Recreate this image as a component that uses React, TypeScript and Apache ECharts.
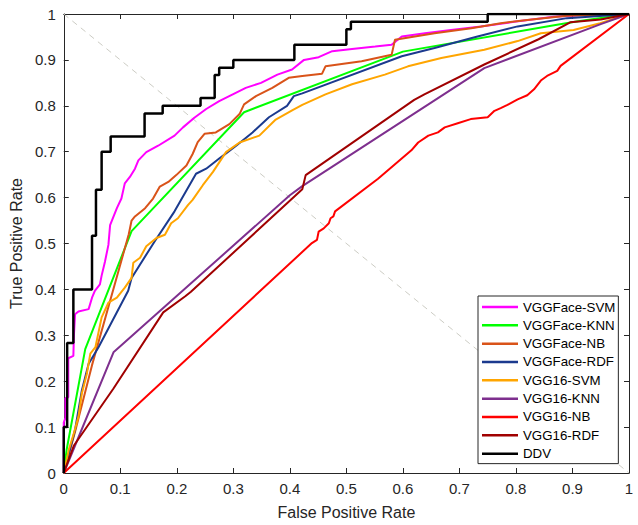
import React, { useEffect, useRef } from 'react';
import * as echarts from 'echarts';

const seriesNames = [
  'VGGFace-SVM',
  'VGGFace-KNN',
  'VGGFace-NB',
  'VGGFace-RDF',
  'VGG16-SVM',
  'VGG16-KNN',
  'VGG16-NB',
  'VGG16-RDF',
  'DDV',
];

const seriesColors = [
  '#FF00FF',
  '#00FF00',
  '#D95319',
  '#1B3A8E',
  '#FFA500',
  '#7E2F8E',
  '#FF0000',
  '#A00000',
  '#000000',
];

const vggfaceSvm = [
  [0, 0], [0, 0.11], [0.003, 0.12], [0.003, 0.163], [0.008, 0.165], [0.008, 0.25],
  [0.017, 0.255], [0.018, 0.3], [0.02, 0.346], [0.026, 0.352], [0.044, 0.357],
  [0.05, 0.382], [0.055, 0.397], [0.064, 0.411], [0.067, 0.43], [0.073, 0.461],
  [0.079, 0.497], [0.082, 0.54], [0.094, 0.577], [0.102, 0.598], [0.108, 0.631],
  [0.117, 0.645], [0.126, 0.663], [0.132, 0.681], [0.146, 0.699], [0.167, 0.713],
  [0.196, 0.735], [0.211, 0.753], [0.231, 0.774], [0.252, 0.793], [0.275, 0.81],
  [0.299, 0.825], [0.322, 0.839], [0.349, 0.85], [0.378, 0.868], [0.404, 0.879],
  [0.425, 0.9], [0.451, 0.906], [0.475, 0.919], [0.51, 0.924], [0.551, 0.929],
  [0.58, 0.933], [0.598, 0.951], [0.639, 0.958], [0.685, 0.965], [0.738, 0.973],
  [0.797, 0.983], [0.867, 0.994], [0.92, 0.998], [1, 1],
];

const vggfaceKnn = [
  [0, 0], [0.005, 0.05], [0.038, 0.27], [0.12, 0.527], [0.319, 0.786],
  [0.6, 0.918], [0.87, 0.976], [0.91, 0.984], [1, 1],
];

const vggfaceNb = [
  [0, 0], [0.02, 0.09], [0.05, 0.235], [0.09, 0.41], [0.115, 0.52], [0.12, 0.55],
  [0.126, 0.559], [0.144, 0.577], [0.158, 0.598], [0.17, 0.624], [0.185, 0.634],
  [0.199, 0.649], [0.217, 0.67], [0.228, 0.695], [0.237, 0.721], [0.249, 0.739],
  [0.269, 0.742], [0.293, 0.76], [0.311, 0.782], [0.319, 0.803], [0.34, 0.821],
  [0.369, 0.839], [0.398, 0.861], [0.422, 0.865], [0.457, 0.87], [0.463, 0.886],
  [0.527, 0.897], [0.58, 0.911], [0.586, 0.944], [0.656, 0.958], [0.721, 0.969],
  [0.773, 0.98], [0.82, 0.987], [0.89, 0.996], [1, 1],
];

const vggfaceRdf = [
  [0, 0], [0.02, 0.094], [0.032, 0.18], [0.044, 0.238], [0.0615, 0.274],
  [0.114, 0.397], [0.12, 0.425], [0.161, 0.505], [0.196, 0.57], [0.234, 0.652],
  [0.252, 0.663], [0.275, 0.685], [0.305, 0.713], [0.334, 0.742], [0.363, 0.775],
  [0.395, 0.8], [0.407, 0.821], [0.422, 0.827], [0.598, 0.908], [0.656, 0.926],
  [0.732, 0.951], [0.803, 0.973], [0.89, 0.991], [1, 1],
];

const vgg16Svm = [
  [0, 0], [0.009, 0.051], [0.018, 0.087], [0.026, 0.123], [0.032, 0.173],
  [0.041, 0.217], [0.047, 0.26], [0.056, 0.274], [0.067, 0.339], [0.079, 0.371],
  [0.094, 0.382], [0.108, 0.404], [0.12, 0.425], [0.123, 0.458], [0.135, 0.469],
  [0.146, 0.494], [0.164, 0.512], [0.179, 0.519], [0.19, 0.544], [0.202, 0.555],
  [0.22, 0.584], [0.228, 0.595], [0.246, 0.627], [0.264, 0.656], [0.287, 0.699],
  [0.311, 0.72], [0.346, 0.735], [0.375, 0.77], [0.404, 0.79], [0.422, 0.802],
  [0.463, 0.825], [0.51, 0.847], [0.568, 0.868], [0.609, 0.886], [0.668, 0.904],
  [0.744, 0.922], [0.803, 0.941], [0.844, 0.958], [0.902, 0.965], [0.949, 0.98],
  [1, 1],
];

const vgg16Knn = [
  [0, 0], [0.088, 0.263], [0.4, 0.605], [0.422, 0.625], [0.744, 0.882],
  [0.95, 0.978], [1, 1],
];

const vgg16Nb = [
  [0, 0], [0.439, 0.501], [0.448, 0.508], [0.451, 0.526], [0.46, 0.533],
  [0.469, 0.544], [0.472, 0.555], [0.477, 0.559], [0.48, 0.57], [0.556, 0.641],
  [0.615, 0.703], [0.627, 0.72], [0.645, 0.735], [0.662, 0.742], [0.674, 0.753],
  [0.697, 0.762], [0.72, 0.771], [0.75, 0.775], [0.762, 0.789], [0.773, 0.795],
  [0.785, 0.802], [0.803, 0.814], [0.82, 0.823], [0.832, 0.836], [0.844, 0.855],
  [0.855, 0.865], [0.873, 0.876], [0.879, 0.887], [1, 1],
];

const vgg16Rdf = [
  [0, 0], [0.018, 0.06], [0.088, 0.184], [0.176, 0.35], [0.215, 0.385],
  [0.225, 0.395], [0.422, 0.618], [0.428, 0.649], [0.62, 0.813], [0.638, 0.825],
  [0.744, 0.89], [0.84, 0.945], [0.896, 0.982], [0.95, 0.988], [1, 1],
];

const ddv = [
  [0, 0], [0, 0.1], [0.006, 0.1], [0.006, 0.283], [0.017, 0.283], [0.017, 0.4],
  [0.05, 0.4], [0.05, 0.517], [0.057, 0.517], [0.057, 0.617], [0.067, 0.617],
  [0.067, 0.7], [0.083, 0.7], [0.083, 0.733], [0.143, 0.733], [0.143, 0.783],
  [0.175, 0.783], [0.175, 0.8], [0.242, 0.8], [0.242, 0.817], [0.267, 0.817],
  [0.267, 0.867], [0.275, 0.867], [0.275, 0.883], [0.3, 0.883], [0.3, 0.9],
  [0.408, 0.9], [0.408, 0.933], [0.5, 0.933], [0.5, 0.967], [0.508, 0.967],
  [0.508, 0.983], [0.75, 0.983], [0.75, 1], [1, 1],
];

const chanceLine = [[0, 1], [1, 0]];

const seriesData = [
  vggfaceSvm, vggfaceKnn, vggfaceNb, vggfaceRdf,
  vgg16Svm, vgg16Knn, vgg16Nb, vgg16Rdf, ddv,
];

const xAxisName = 'False Positive Rate';
const yAxisName = 'True Positive Rate';

const FONT = '"Liberation Sans", Arial, Helvetica, sans-serif';
const AXIS_COLOR = '#262626';

function makeAxis(position: string, showLabel: boolean) {
  return {
    type: 'value',
    position,
    min: 0,
    max: 1,
    interval: 0.1,
    axisLine: { show: true, onZero: false, lineStyle: { color: AXIS_COLOR, width: 1 } },
    axisTick: { show: true, inside: true, length: 5, lineStyle: { color: AXIS_COLOR, width: 1 } },
    splitLine: { show: false },
    axisLabel: {
      show: showLabel,
      color: AXIS_COLOR,
      fontSize: 15,
      fontFamily: FONT,
      margin: 8,
    },
  };
}

export default function App() {
  const ref = useRef<HTMLDivElement>(null);

  useEffect(() => {
    document.body.style.margin = '0';
    const chart = echarts.init(ref.current!, null, { renderer: 'svg' });

    const lines = seriesNames.map((name, i) => ({
      name,
      type: 'line',
      data: seriesData[i],
      symbol: 'none',
      showSymbol: false,
      xAxisIndex: 0,
      yAxisIndex: 0,
      lineStyle: { color: seriesColors[i], width: name === 'DDV' ? 2.5 : 2 },
      itemStyle: { color: seriesColors[i] },
      z: 3 + i,
    }));

    const option = {
      animation: false,
      backgroundColor: '#ffffff',
      grid: { left: 60, right: 9, top: 14, bottom: 48, containLabel: false },
      xAxis: [
        {
          ...makeAxis('bottom', true),
          name: xAxisName,
          nameLocation: 'middle',
          nameGap: 31,
          nameTextStyle: { fontSize: 16, color: AXIS_COLOR, fontFamily: FONT },
        },
        makeAxis('top', false),
      ],
      yAxis: [
        {
          ...makeAxis('left', true),
          name: yAxisName,
          nameLocation: 'middle',
          nameGap: 34,
          nameTextStyle: { fontSize: 16, color: AXIS_COLOR, fontFamily: FONT },
        },
        makeAxis('right', false),
      ],
      legend: {
        data: seriesNames,
        orient: 'vertical',
        left: 478,
        top: 296,
        icon: 'rect',
        itemWidth: 36,
        itemHeight: 2.5,
        itemGap: 4.33,
        padding: [4, 3, 3, 4],
        backgroundColor: '#ffffff',
        borderColor: AXIS_COLOR,
        borderWidth: 1,
        borderRadius: 0,
        selectedMode: false,
        textStyle: { fontSize: 13.3, lineHeight: 14, color: '#000000', fontFamily: FONT },
      },
      series: [
        {
          name: 'chance',
          type: 'line',
          data: chanceLine,
          symbol: 'none',
          silent: true,
          lineStyle: { color: '#CCCCC4', width: 1, type: [6, 5] },
          z: 2,
        },
        ...lines,
      ],
    };

    chart.setOption(option);
    return () => chart.dispose();
  }, []);

  return <div ref={ref} style={{ width: 638, height: 525 }} />;
}
